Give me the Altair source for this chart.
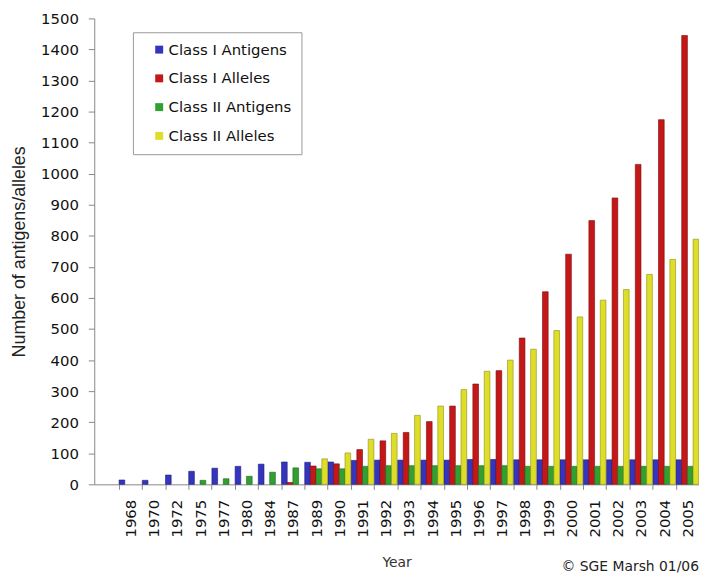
import altair as alt
import pandas as pd

years = ["1968", "1970", "1972", "1975", "1977", "1980", "1984", "1987", "1989",
         "1990", "1991", "1992", "1993", "1994", "1995", "1996", "1997", "1998",
         "1999", "2000", "2001", "2002", "2003", "2004", "2005"]
class1_antigens = [14, 13, 30, 42, 52, 58, 65, 72, 71, 72, 77, 78, 78, 78, 78, 80,
                   80, 79, 79, 79, 79, 79, 79, 79, 79]
class1_alleles = [0, 0, 0, 0, 0, 0, 0, 6, 59, 66, 112, 140, 167, 202, 252, 323,
                  366, 471, 620, 741, 849, 922, 1030, 1174, 1445]
class2_antigens = [0, 0, 0, 13, 18, 26, 39, 53, 50, 50, 58, 60, 60, 60, 60, 60,
                   60, 58, 58, 58, 58, 58, 58, 58, 58]
class2_alleles = [0, 0, 0, 0, 0, 0, 0, 0, 82, 101, 145, 164, 222, 252, 305, 364,
                  400, 435, 495, 539, 593, 627, 676, 724, 789]

series_names = ["Class I Antigens", "Class I Alleles", "Class II Antigens", "Class II Alleles"]
series_colors = ["#3434BC", "#C41818", "#30A030", "#DEDE28"]
series_strokes = ["#20207A", "#7A0A0A", "#1C661C", "#8E8E18"]
y_ticks = list(range(0, 1501, 100))
copyright_text = "© SGE Marsh 01/06"

rows = []
for name, vals in zip(series_names, [class1_antigens, class1_alleles, class2_antigens, class2_alleles]):
    for yr, v in zip(years, vals):
        if v > 0:
            rows.append({"Year": yr, "Series": name, "Value": v})
df = pd.DataFrame(rows)

bars = alt.Chart(df).mark_bar(strokeWidth=0.6).encode(
    x=alt.X("Year:N", sort=years,
            scale=alt.Scale(domain=years, paddingInner=0, paddingOuter=0.53, align=1),
            axis=alt.Axis(title="Year", labelAngle=270, tickBand="extent", tickSize=5,
                          labelPadding=10, labelFont="DejaVu Sans", labelFontSize=15,
                          labelColor="#111", domainColor="#888", tickColor="#888",
                          titleFont="DejaVu Sans", titleFontSize=14, titleFontWeight="normal",
                          titleColor="#333", titlePadding=19, grid=False)),
    xOffset=alt.XOffset("Series:N", sort=series_names,
                        scale=alt.Scale(domain=series_names, paddingInner=0, paddingOuter=0.04)),
    y=alt.Y("Value:Q", scale=alt.Scale(domain=[0, 1500], nice=False),
            axis=alt.Axis(values=y_ticks, format="d", title="Number of antigens/alleles",
                          tickSize=6, labelPadding=10, labelFont="DejaVu Sans",
                          labelFontSize=15, labelColor="#111", domainColor="#888",
                          tickColor="#888", titleFont="Liberation Sans", titleFontSize=18,
                          titleFontWeight="normal", titleColor="#222", titlePadding=12,
                          grid=False)),
    color=alt.Color("Series:N", sort=series_names,
                    scale=alt.Scale(domain=series_names, range=series_colors),
                    legend=alt.Legend(title=None, orient="none", legendX=39, legendY=14,
                                      padding=10, rowPadding=13, symbolType="square",
                                      symbolSize=64, symbolOffset=9, labelOffset=2,
                                      labelFont="DejaVu Sans", labelFontSize=15,
                                      labelColor="#111", strokeColor="#999",
                                      fillColor="white", symbolStrokeWidth=0)),
    stroke=alt.Stroke("Series:N", sort=series_names,
                      scale=alt.Scale(domain=series_names, range=series_strokes), legend=None),
)

note = alt.Chart(pd.DataFrame({"t": [copyright_text]})).mark_text(
    align="right", baseline="bottom", font="DejaVu Sans", fontSize=14, color="#222"
).encode(x=alt.value(610), y=alt.value(560), text="t:N")

chart = alt.layer(bars, note).properties(
    width=610, height=470,
    autosize=alt.AutoSizeParams(type="none"),
    padding={"left": 87, "top": 8, "right": 0, "bottom": 92},
).configure_view(stroke=None)

chart.save("out.html", embed_options={"renderer": "svg", "actions": False})
